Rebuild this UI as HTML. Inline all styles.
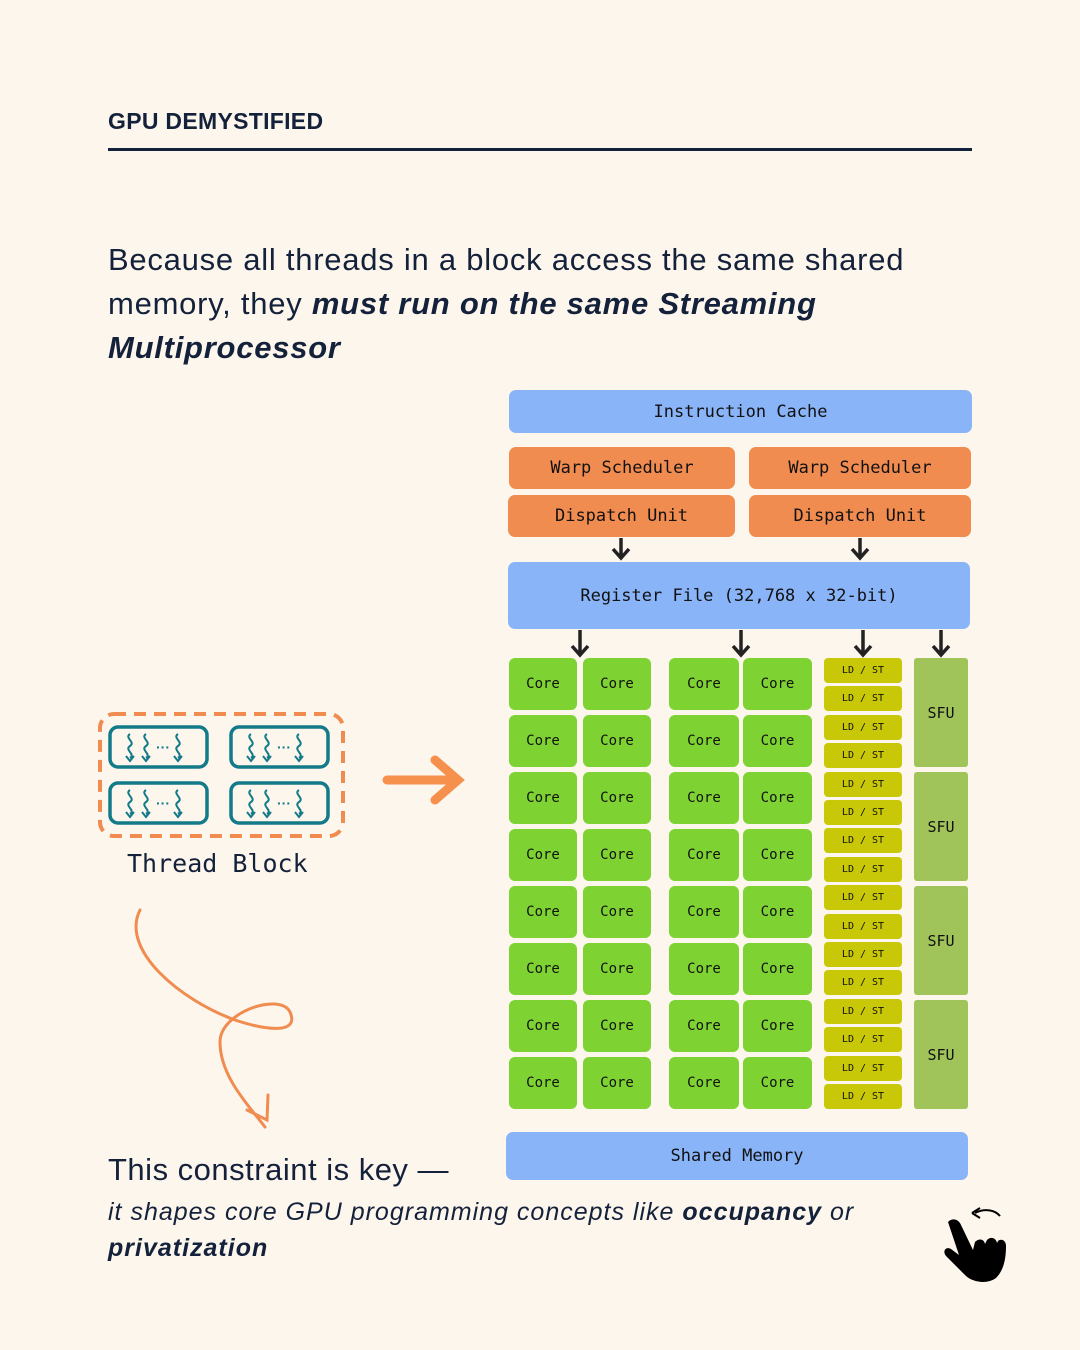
<!DOCTYPE html>
<html><head><meta charset="utf-8"><style>
*{margin:0;padding:0;box-sizing:border-box}
body{width:1080px;height:1350px;background:#fdf6ed;position:relative;overflow:hidden;font-family:"Liberation Sans",sans-serif;color:#14213a}
.a{position:absolute}
.m{font-family:"DejaVu Sans Mono","Liberation Mono",monospace;color:#111;display:flex;align-items:center;justify-content:center;border-radius:7px}
.b{background:#8ab4f8;font-size:17px}
.o{background:#f08c50;font-size:17px}
.c{background:#7ed332;font-size:14px;border-radius:6px}
.l{background:#c8c808;font-size:10px;border-radius:4px}
.s{background:#a0c45a;font-size:15px;border-radius:3px}
</style></head><body>
<div class="a" style="left:108px;top:108px;font-size:23px;font-weight:bold;letter-spacing:0.3px">GPU DEMYSTIFIED</div>
<div class="a" style="left:108px;top:148px;width:864px;height:3px;background:#14213a"></div>
<div class="a" style="left:108px;top:238px;width:900px;font-size:31px;line-height:44px;letter-spacing:0.75px">Because all threads in a block access the same shared memory, they <b><i>must run on the same Streaming Multiprocessor</i></b></div>

<div class="a m b" style="left:509px;top:390px;width:463px;height:43px">Instruction Cache</div>
<div class="a m o" style="left:509px;top:447px;width:226px;height:42px">Warp Scheduler</div>
<div class="a m o" style="left:749px;top:447px;width:222px;height:42px">Warp Scheduler</div>
<div class="a m o" style="left:508px;top:495px;width:227px;height:42px">Dispatch Unit</div>
<div class="a m o" style="left:749px;top:495px;width:222px;height:42px">Dispatch Unit</div>
<div class="a m b" style="left:508px;top:562px;width:462px;height:67px">Register File (32,768 x 32-bit)</div>
<div class="a m b" style="left:506px;top:1132px;width:462px;height:48px">Shared Memory</div>

<svg class="a" style="left:0;top:0" width="1080" height="1350">
<g stroke="#222" stroke-width="3.5" fill="none">
<path d="M621 538v20M613 549l8 9 8-9"/>
<path d="M860 538v20M852 549l8 9 8-9"/>
<path d="M580 630v25M572 646l8 9 8-9"/>
<path d="M741 630v25M733 646l8 9 8-9"/>
<path d="M863 630v25M855 646l8 9 8-9"/>
<path d="M941 630v25M933 646l8 9 8-9"/>
</g>
<rect x="100" y="714" width="243" height="122" rx="14" fill="none" stroke="#f08c50" stroke-width="4" stroke-dasharray="12 8"/>
<g fill="none" stroke="#137a8a" stroke-width="3.5">
<rect x="110" y="727" width="97" height="40" rx="8"/><rect x="231" y="727" width="97" height="40" rx="8"/>
<rect x="110" y="783" width="97" height="40" rx="8"/><rect x="231" y="783" width="97" height="40" rx="8"/>
</g>
<g fill="none" stroke="#137a8a" stroke-width="2">
<path id="t" d="M130 734c-6 4 6 8 0 12s6 8 0 12M126 756l4 5 4-5M146 734c-6 4 6 8 0 12s6 8 0 12M142 756l4 5 4-5M178 734c-6 4 6 8 0 12s6 8 0 12M174 756l4 5 4-5"/>
<use href="#t" x="121"/><use href="#t" y="56"/><use href="#t" x="121" y="56"/>
</g>
<g fill="#137a8a"><text x="156" y="752" font-size="14" font-weight="bold">···</text><text x="277" y="752" font-size="14" font-weight="bold">···</text><text x="156" y="808" font-size="14" font-weight="bold">···</text><text x="277" y="808" font-size="14" font-weight="bold">···</text></g>
<g stroke="#f5914d" stroke-width="9" stroke-linecap="round" fill="none">
<path d="M387 780h70M435 760l23 20-23 20"/>
</g>
<g stroke="#f08c50" stroke-width="3" fill="none" stroke-linecap="round">
<path d="M140 910c-20 40 40 90 95 110 30 10 65 15 55 -8-10-20-70 0-70 30 0 35 30 65 45 85M268 1095l-1 25-20-10"/>
</g>
<path d="M975 1213c10-5 20-3 25 3M972 1213l8-5M972 1213l8 5" stroke="#000" stroke-width="2" fill="none"/>
<path d="M948 1222c5-5 11-2 13 3l12 25 2-8c4-4 9-3 10 2l2-4c4-4 9-2 10 3l1-2c4-3 8 0 8 5 0 12-2 24-10 32-8 6-22 5-30-2l-20-20c-4-5 0-10 5-7l8 6z" fill="#000"/>
</svg>
<div class="a" style="left:127px;top:849px;font-family:'DejaVu Sans Mono',monospace;font-size:25px;color:#14213a">Thread Block</div>

<div id="grid"></div>
<script>
var h='';var xs=[[509,68],[583,68],[669,70],[743,69]];
for(var r=0;r<8;r++){var y=658+r*57;xs.forEach(function(x){h+='<div class="a m c" style="left:'+x[0]+'px;top:'+y+'px;width:'+x[1]+'px;height:52px">Core</div>'});}
for(var i=0;i<16;i++){var y=658+i*28.4;h+='<div class="a m l" style="left:824px;top:'+y+'px;width:78px;height:25px">LD / ST</div>';}
for(var g=0;g<4;g++){h+='<div class="a m s" style="left:914px;top:'+(658+g*114)+'px;width:54px;height:109px">SFU</div>';}
document.getElementById('grid').innerHTML=h;
</script>
<div class="a" style="left:108px;top:1152px;font-size:31px;letter-spacing:0.5px">This constraint is key —</div>
<div class="a" style="left:108px;top:1194px;width:820px;font-size:25px;line-height:36px;font-style:italic;letter-spacing:1px">it shapes core GPU programming concepts like <b>occupancy</b> or <b>privatization</b></div>
</body></html>
